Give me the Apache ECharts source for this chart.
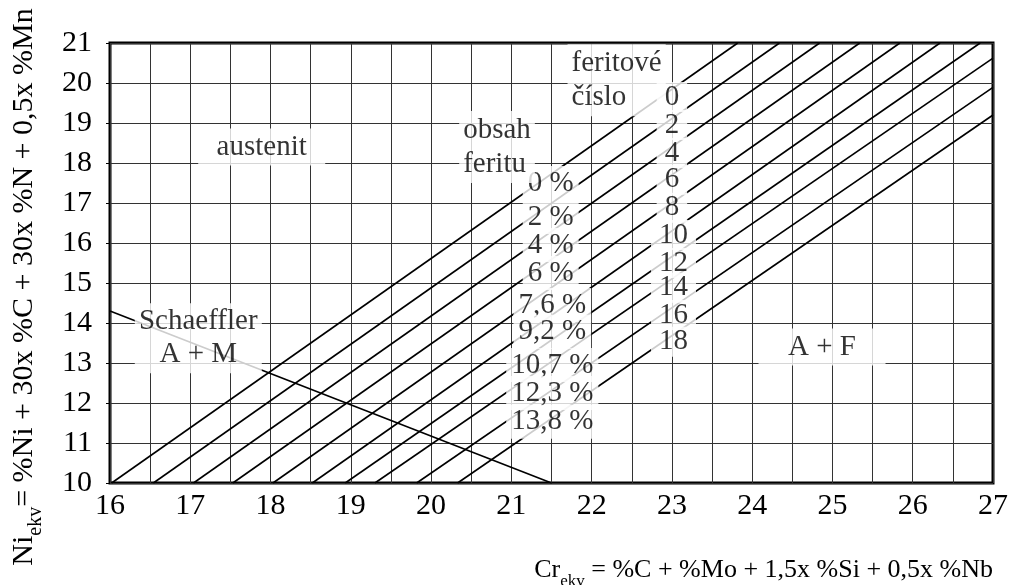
<!DOCTYPE html>
<html><head><meta charset="utf-8">
<script src="https://cdn.jsdelivr.net/npm/echarts/dist/echarts.min.js"></script>
<style>html,body{margin:0;padding:0;background:#fff}#c{width:1017px;height:585px}</style>
</head><body><div id="c"></div>
<script>
// ---- data ----
// diagonal ferrite lines: start on Ni_ekv = 10, end on top (21) or right edge (27)
const lineStartX = [16.02, 16.54, 17.04, 17.53, 18.03, 18.52, 18.93, 19.30, 19.82, 20.33];
const lineStartY = [10, 10, 10, 10, 10, 10, 10, 10, 10, 10];
const lineEndX   = [23.82, 24.34, 24.84, 25.34, 25.84, 26.34, 26.84, 27, 27, 27];
const lineEndY   = [21, 21, 21, 21, 21, 21, 21, 20.62, 19.89, 19.2];
// Schaeffler A+M boundary
const schX = [16, 21.5];
const schY = [14.3, 10];
// ferrite content labels (obsah feritu)
const pctLabels = ['0 %', '2 %', '4 %', '6 %', '7,6 %', '9,2 %', '10,7 %', '12,3 %', '13,8 %'];
const pctX = [21.49, 21.49, 21.49, 21.49, 21.51, 21.51, 21.51, 21.51, 21.51];
const pctY = [17.5, 16.65, 15.95, 15.25, 14.45, 13.78, 12.95, 12.25, 11.53];
// ferrite number labels (feritové číslo)
const fnLabels = ['0', '2', '4', '6', '8', '10', '12', '14', '16', '18'];
const fnX = [23.0, 23.0, 23.0, 23.0, 23.0, 23.02, 23.02, 23.02, 23.02, 23.02];
const fnY = [19.65, 18.95, 18.25, 17.58, 16.88, 16.2, 15.5, 14.88, 14.2, 13.53];
// region labels
const regionTexts = ['austenit', 'A + F', 'Schaeffler\nA + M'];
const regionX = [17.89, 24.87, 17.1];
const regionY = [18.4, 13.4, 13.62];
const headTexts = ['feritové\nčíslo', 'obsah\nferitu'];
const headX = [21.70, 20.35];
const headY = [20.07, 18.4];
const xTitle = ['Cr', 'ekv', ' = %C + %Mo + 1,5x %Si + 0,5x %Nb'];
const yTitle = ['Ni', 'ekv', '= %Ni + 30x %C + 30x %N + 0,5x %Mn'];

const FONT = 'Liberation Serif';
const chart = echarts.init(document.getElementById('c'), null, {renderer: 'canvas'});

const series = [];
for (let i = 0; i < lineStartX.length; i++) {
  series.push({
    type: 'line', silent: true, animation: false, symbol: 'none', z: 2,
    lineStyle: {color: '#000', width: 1.6},
    data: [[lineStartX[i], lineStartY[i]], [lineEndX[i], lineEndY[i]]]
  });
}
series.push({
  type: 'line', silent: true, animation: false, symbol: 'none', z: 2,
  lineStyle: {color: '#000', width: 1.6},
  data: schX.map((x, i) => [x, schY[i]])
});

const baseLabel = {
  show: true, position: 'inside', formatter: '{b}', color: '#000',
  fontFamily: FONT, fontSize: 29, backgroundColor: '#fff', padding: [2, 6]
};
function labelSeries(texts, xs, ys, extra) {
  return {
    type: 'scatter', silent: true, animation: false, symbolSize: 0, z: 10,
    label: Object.assign({}, baseLabel, extra || {}),
    data: texts.map((t, i) => ({name: t, value: [xs[i], ys[i]]}))
  };
}
series.push(labelSeries(pctLabels, pctX, pctY, {padding: [2, 5], lineHeight: 30}));
series.push(labelSeries(fnLabels, fnX, fnY, {padding: [0, 8], lineHeight: 30}));
series.push(labelSeries(regionTexts, regionX, regionY, {lineHeight: 33, padding: [2, 3], width: 121, align: 'center'}));
series.push(labelSeries(headTexts, headX, headY, {position: 'right', distance: 0, align: 'left', lineHeight: 34, padding: [2, 4]}));

const richFor = (big, small, pad) => ({
  a: {fontFamily: FONT, fontSize: big, lineHeight: big, color: '#000'},
  s: {fontFamily: FONT, fontSize: small, lineHeight: small, color: '#000', verticalAlign: 'top', padding: [pad, 0, 0, 0]}
});

chart.setOption({
  backgroundColor: '#fff',
  animation: false,
  grid: {left: 110, right: 24, top: 43, bottom: 102, containLabel: false, outerBoundsMode: 'none',
         show: true, borderColor: '#000', borderWidth: 3, backgroundColor: 'transparent'},
  xAxis: {
    type: 'value', min: 16, max: 27, interval: 1,
    axisLine: {show: false}, axisTick: {show: false},
    axisLabel: {color: '#000', fontFamily: FONT, fontSize: 30, margin: 8},
    splitLine: {show: true, lineStyle: {color: '#333', width: 1}},
    minorTick: {show: false, splitNumber: 2},
    minorSplitLine: {show: true, lineStyle: {color: '#333', width: 1}}
  },
  yAxis: {
    type: 'value', min: 10, max: 21, interval: 1,
    axisLine: {show: false},
    axisTick: {show: true, length: 4, lineStyle: {color: '#000'}},
    axisLabel: {color: '#000', fontFamily: FONT, fontSize: 30, margin: 18},
    splitLine: {show: true, lineStyle: {color: '#333', width: 1}}
  },
  graphic: [
    {type: 'text', x: 993, y: 570, silent: true,
     style: {text: '{a|' + xTitle[0] + '}{s|' + xTitle[1] + '}{a|' + xTitle[2] + '}', rich: richFor(26, 17, 16),
             align: 'right', verticalAlign: 'middle', textAlign: 'right', textVerticalAlign: 'middle'}},
    {type: 'text', x: 24, y: 287, rotation: Math.PI / 2, silent: true,
     style: {text: '{a|' + yTitle[0] + '}{s|' + yTitle[1] + '}{a|' + yTitle[2] + '}', rich: richFor(30, 20, 17),
             align: 'center', verticalAlign: 'middle', textAlign: 'center', textVerticalAlign: 'middle'}}
  ],
  series: series
});
</script></body></html>
